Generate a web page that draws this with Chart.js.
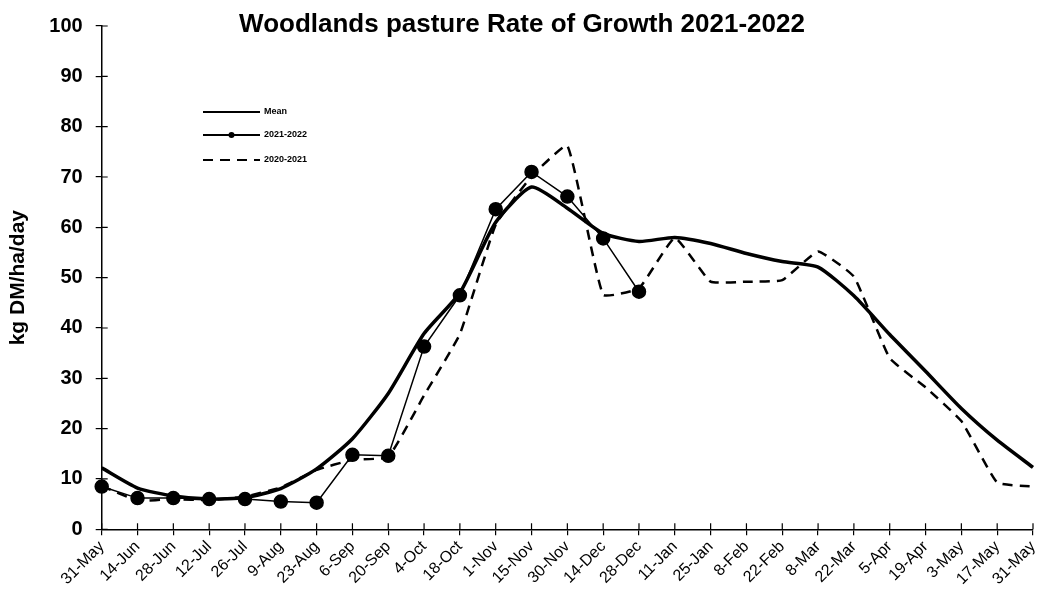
<!DOCTYPE html>
<html>
<head>
<meta charset="utf-8">
<script src="https://cdn.jsdelivr.net/npm/chart.js@4"></script>
<style>
html,body{margin:0;padding:0;background:#fff;}
#wrap{width:1041px;height:592px;position:relative;}
</style>
</head>
<body>
<div id="wrap"><canvas id="c"></canvas></div>
<script>
const chartTitle = 'Woodlands pasture Rate of Growth 2021-2022';
const yAxisTitle = 'kg DM/ha/day';
const categories = ['31-May','14-Jun','28-Jun','12-Jul','26-Jul','9-Aug','23-Aug','6-Sep','20-Sep','4-Oct','18-Oct','1-Nov','15-Nov','30-Nov','14-Dec','28-Dec','11-Jan','25-Jan','8-Feb','22-Feb','8-Mar','22-Mar','5-Apr','19-Apr','3-May','17-May','31-May'];
const meanValues = [12.2, 8.2, 6.6, 6.0, 6.3, 8.1, 12.0, 18.0, 27.0, 38.9, 47.0, 61.0, 68.0, 63.8, 58.8, 57.2, 58.0, 56.8, 54.8, 53.2, 52.1, 46.4, 38.7, 31.4, 24.0, 17.7, 12.3];
const season2122 = [8.5, 6.2, 6.2, 6.0, 6.0, 5.5, 5.3, 14.8, 14.6, 36.3, 46.5, 63.6, 71.0, 66.1, 57.8, 47.2, null, null, null, null, null, null, null, null, null, null, null];
const season2021 = [8.6, 5.7, 6.0, 5.8, 6.5, 8.3, 11.8, 13.8, 14.4, 26.6, 38.8, 60.5, 70.1, 76.2, 46.6, 47.9, 57.9, 49.2, 49.2, 49.5, 55.2, 50.2, 34.0, 28.2, 21.5, 9.3, 8.5];
const yTicks = {min: 0, max: 100, step: 10};

const innerTicks = {
  id: 'innerTicks',
  afterDraw(chart) {
    const ctx = chart.ctx, x = chart.scales.x, y = chart.scales.y;
    ctx.save();
    ctx.strokeStyle = '#000';
    ctx.lineWidth = 1.2;
    ctx.beginPath();
    x.ticks.forEach((t, i) => {
      const px = x.getPixelForTick(i);
      ctx.moveTo(px, x.top); ctx.lineTo(px, x.top - 6);
    });
    y.ticks.forEach((t, i) => {
      const py = y.getPixelForTick(i);
      ctx.moveTo(y.right, py); ctx.lineTo(y.right + 6, py);
    });
    ctx.stroke();
    ctx.restore();
  }
};

const titlePlugin = {
  id: 'titlePlugin',
  afterDraw(chart) {
    const ctx = chart.ctx;
    ctx.save();
    ctx.fillStyle = '#000';
    ctx.font = 'bold 26px "Liberation Sans", Arial, sans-serif';
    ctx.textAlign = 'center';
    ctx.textBaseline = 'middle';
    ctx.fillText(chartTitle, 522, 25);
    ctx.restore();
  }
};

const legendPlugin = {
  id: 'customLegend',
  afterDraw(chart) {
    const ctx = chart.ctx;
    const order = [0, 1, 2];
    const x0 = 203, x1 = 260, ys = [112, 135, 160];
    ctx.save();
    order.forEach((di, k) => {
      const ds = chart.data.datasets[di];
      const yy = ys[k];
      ctx.strokeStyle = '#000';
      ctx.lineWidth = 2;
      ctx.setLineDash(ds.borderDash && ds.borderDash.length ? [10, 7] : []);
      ctx.beginPath(); ctx.moveTo(x0, yy); ctx.lineTo(x1, yy); ctx.stroke();
      ctx.setLineDash([]);
      if (ds.pointRadius > 0) {
        ctx.fillStyle = '#000';
        ctx.beginPath(); ctx.arc((x0 + x1) / 2, yy, 3, 0, Math.PI * 2); ctx.fill();
      }
      ctx.fillStyle = '#000';
      ctx.font = 'bold 9px "Liberation Sans", Arial, sans-serif';
      ctx.textAlign = 'left';
      ctx.textBaseline = 'middle';
      ctx.fillText(ds.label, 264, yy);
    });
    ctx.restore();
  }
};

new Chart(document.getElementById('c'), {
  type: 'line',
  data: {
    labels: categories,
    datasets: [
      {label: 'Mean', data: meanValues, borderColor: '#000', backgroundColor: '#000', borderWidth: 3.5, pointRadius: 0, tension: 0.2, borderDash: []},
      {label: '2021-2022', data: season2122, borderColor: '#000', backgroundColor: '#000', borderWidth: 1.5, pointRadius: 6.5, pointHoverRadius: 6.5, tension: 0, spanGaps: false, borderDash: []},
      {label: '2020-2021', data: season2021, borderColor: '#000', backgroundColor: '#000', borderWidth: 2.5, pointRadius: 0, tension: 0.12, borderDash: [10, 7]}
    ]
  },
  options: {
    responsive: true,
    maintainAspectRatio: false,
    animation: false,
    events: [],
    layout: {padding: {left: 6, right: 7, top: 26, bottom: 0}},
    plugins: {legend: {display: false}, title: {display: false}, tooltip: {enabled: false}},
    scales: {
      x: {
        offset: false,
        border: {color: '#000', width: 1.5},
        grid: {drawOnChartArea: false, color: '#000', tickLength: 6, lineWidth: 1.2},
        ticks: {color: '#000', maxRotation: 45, minRotation: 45, autoSkip: false, padding: 2,
          font: {family: '"Liberation Sans", Arial, sans-serif', size: 16}},
        afterFit(scale) { scale.height = 62.7; scale.paddingRight = 0; scale.paddingLeft = 0; }
      },
      y: {
        min: yTicks.min, max: yTicks.max,
        border: {color: '#000', width: 1.5},
        grid: {drawOnChartArea: false, color: '#000', tickLength: 6, lineWidth: 1.2},
        ticks: {stepSize: yTicks.step, color: '#000', padding: 13,
          font: {family: '"Liberation Sans", Arial, sans-serif', size: 20, weight: 'bold'}},
        title: {display: true, text: yAxisTitle, color: '#000', padding: {top: 0, bottom: 0},
          font: {family: '"Liberation Sans", Arial, sans-serif', size: 21, weight: 'bold'}},
        afterFit(scale) { scale.width = 95.7; }
      }
    }
  },
  plugins: [innerTicks, titlePlugin, legendPlugin]
});
</script>
</body>
</html>
